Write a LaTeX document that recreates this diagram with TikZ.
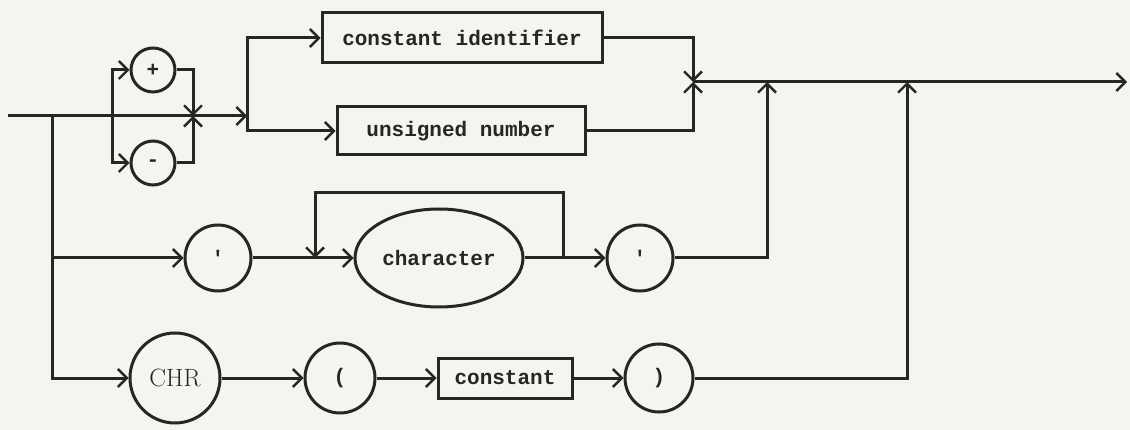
\documentclass[tikz,border=0pt]{standalone}
\usepackage{fontspec}
\setmonofont{Liberation Mono}
\usetikzlibrary{arrows.meta,shapes.geometric}
\definecolor{paper}{RGB}{246,244,238}
\definecolor{ink}{RGB}{40,38,36}
\begin{document}
\begin{tikzpicture}[x=1pt,y=-1pt,
  ln/.style={draw=ink,line width=3pt},
  arr/.style={ln,-{Straight Barb[length=9pt,width=18pt,line width=2.4pt]}},
  lab/.style={font=\ttfamily\bfseries\fontsize{21}{24}\selectfont,text=ink},
  rbox/.style={draw=ink,line width=3pt,rectangle,inner sep=0pt,lab},
  term/.style={draw=ink,line width=3pt,circle,inner sep=0pt,lab},
  ell/.style={draw=ink,line width=3pt,ellipse,inner sep=0pt,lab}]
\fill[paper] (0,0) rectangle (1130,430);
\useasboundingbox (0,0) rectangle (1130,430);
% nodes
\node[term,minimum size=44pt] (plus) at (153,70) {+};
\node[term,minimum size=44pt] (minus) at (153,163) {-};
\node[rbox,minimum width=280pt,minimum height=50pt] (constid) at (462,38) {constant identifier};
\node[rbox,minimum width=248pt,minimum height=48pt] (unsnum) at (461,131) {unsigned number};
\node[term,minimum size=66pt] (q1) at (218,258) {'};
\node[ell,minimum width=168pt,minimum height=98pt] (char) at (439,258) {character};
\node[term,minimum size=66pt] (q2) at (640,258) {'};
\node[term,minimum size=90pt,font=\rmfamily\fontsize{25}{28}\selectfont] (chr) at (175,378) {CHR};
\node[term,minimum size=70pt] (lp) at (340,378) {(};
\node[rbox,minimum width=134pt,minimum height=40pt] (const) at (505,378) {constant};
\node[term,minimum size=68pt] (rp) at (659,378) {)};
% coordinates
\coordinate (start) at (8,116);
\coordinate (j1) at (52,116);
\coordinate (j0) at (112,116);
\coordinate (j4) at (193,116);
\coordinate (split) at (247,116);
\coordinate (merge) at (693,82);
\coordinate (j2) at (767,82);
\coordinate (j3) at (907,82);
\coordinate (fin) at (1127,82);
\coordinate (lr) at (563,258);
\coordinate (ltop) at (315,193);
\coordinate (ll) at (315,258);
% main line
\draw[arr] (start) -- (split);
\draw[arr] (j0) |- (plus.west);
\draw[arr] (j0) |- (minus.west);
\draw[arr] (plus.east) -| (j4);
\draw[arr] (minus.east) -| (j4);
\draw[arr] (split) |- (constid.west);
\draw[arr] (split) |- (unsnum.west);
\draw[arr] (constid.east) -| (merge);
\draw[arr] (unsnum.east) -| (merge);
\draw[arr] (merge) -- (fin);
% row 2
\draw[arr] (j1) |- (q1.west);
\draw[arr] (q1.east) -- (char.west);
\draw[arr] (lr) |- (ltop) -- (ll);
\draw[arr] (char.east) -- (q2.west);
\draw[arr] (q2.east) -| (j2);
% row 3
\draw[arr] (j1) |- (chr.west);
\draw[arr] (chr.east) -- (lp.west);
\draw[arr] (lp.east) -- (const.west);
\draw[arr] (const.east) -- (rp.west);
\draw[arr] (rp.east) -| (j3);
\end{tikzpicture}
\end{document}
